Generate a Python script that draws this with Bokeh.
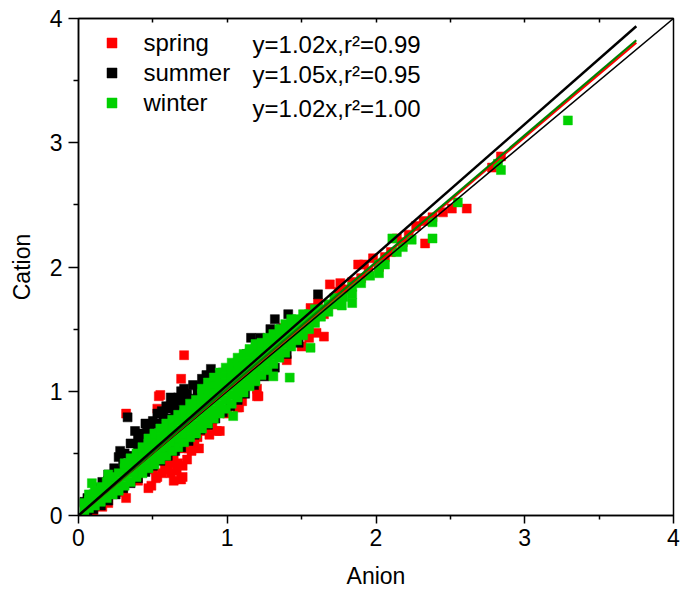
from bokeh.plotting import figure
from bokeh.models import Range1d, FixedTicker, LinearAxis, Legend, LegendItem, Label
from bokeh.embed import file_html
from bokeh.resources import INLINE

FONT = "Liberation Sans"

seasons = ["spring", "summer", "winter"]
point_colors = ["#FF0000", "#000000", "#00D000"]
line_colors = ["#FF0000", "#000000", "#008000"]
fit_slope_text = ["1.02", "1.05", "1.02"]
fit_slope_line = [1.015, 1.05, 1.02]
r2_text = ["0.99", "0.95", "1.00"]
fit_x_end = 3.75

major_ticks = [0, 1, 2, 3, 4]
minor_ticks = [0.5, 1.5, 2.5, 3.5]
top_ticks = [0.5, 1, 1.5, 2, 2.5, 3, 3.5]

spring_pts = [
    (0.16, 0.07), (0.32, 0.14), (0.47, 0.22), (0.49, 0.24), (0.52, 0.30), (0.53, 0.31),
    (0.56, 0.34), (0.58, 0.40), (0.60, 0.37), (0.62, 0.34), (0.62, 0.42), (0.64, 0.28),
    (0.64, 0.45), (0.66, 0.36), (0.67, 0.42), (0.69, 0.29), (0.70, 0.31), (0.70, 0.40),
    (0.71, 0.59), (0.73, 0.45), (0.74, 0.54), (0.74, 0.60), (0.76, 0.52), (0.78, 0.58),
    (0.81, 0.54), (0.82, 0.68), (0.84, 0.71), (0.85, 0.70), (0.88, 0.65), (0.93, 0.68),
    (0.95, 0.68), (1.07, 0.87), (1.08, 0.87), (1.20, 0.96), (1.21, 0.96), (1.55, 1.43),
    (1.65, 1.44),
    (0.10, 0.03), (0.20, 0.10), (0.30, 0.19), (0.40, 0.28), (0.50, 0.37), (0.60, 0.46),
    (0.70, 0.54), (0.80, 0.63), (0.90, 0.72), (1.00, 0.82), (1.10, 0.92), (1.20, 1.02),
    (1.30, 1.14), (1.40, 1.25), (1.50, 1.36), (1.60, 1.47),
    (0.25, 0.25), (0.45, 0.45), (0.65, 0.65), (0.85, 0.85), (1.05, 1.05), (1.25, 1.25),
    (1.45, 1.45),
    (0.32, 0.82), (0.53, 0.86), (0.54, 0.96), (0.55, 0.97), (0.69, 1.10), (0.71, 1.29),
    (1.38, 1.51),
    (1.56, 1.67), (1.61, 1.71), (1.65, 1.62), (1.69, 1.86), (1.72, 1.70), (1.75, 1.80),
    (1.76, 1.87), (1.80, 1.82), (1.84, 1.88), (1.88, 2.02), (1.90, 1.91), (1.92, 2.02),
    (1.95, 1.96), (1.98, 2.07), (2.02, 2.00), (2.06, 2.08), (2.10, 2.12), (2.14, 2.23),
    (2.18, 2.20), (2.22, 2.26), (2.27, 2.33), (2.32, 2.37), (2.33, 2.19), (2.38, 2.40),
    (2.45, 2.44), (2.51, 2.47), (2.61, 2.47), (2.78, 2.80), (2.84, 2.89),
]

summer_pts = [
    (0.04, 0.11), (0.06, 0.14), (0.08, 0.16), (0.12, 0.22), (0.16, 0.27), (0.20, 0.33),
    (0.24, 0.38), (0.27, 0.47), (0.28, 0.52), (0.31, 0.50), (0.33, 0.79), (0.35, 0.58),
    (0.38, 0.68), (0.40, 0.62), (0.43, 0.66), (0.45, 0.74), (0.48, 0.72), (0.50, 0.76),
    (0.53, 0.82), (0.56, 0.84), (0.59, 0.88), (0.62, 0.95), (0.65, 0.93), (0.69, 1.00),
    (0.71, 1.02), (0.73, 0.98), (0.77, 1.05), (0.80, 1.04), (0.83, 1.10), (0.86, 1.13),
    (0.89, 1.18), (0.93, 1.13), (0.97, 1.15), (1.01, 1.18), (1.05, 1.22), (1.09, 1.26),
    (1.13, 1.30), (1.16, 1.43), (1.22, 1.43), (1.26, 1.40), (1.29, 1.50), (1.30, 1.49),
    (1.32, 1.58), (1.36, 1.50), (1.41, 1.62), (1.45, 1.55), (1.50, 1.55), (1.55, 1.58),
    (1.61, 1.78),
    (0.10, 0.17), (0.15, 0.22), (0.20, 0.28), (0.25, 0.36), (0.30, 0.42), (0.35, 0.48),
    (0.40, 0.55), (0.42, 0.62), (0.45, 0.60), (0.46, 0.68), (0.50, 0.66), (0.52, 0.74),
    (0.55, 0.72), (0.57, 0.79), (0.60, 0.78), (0.60, 0.86), (0.64, 0.89), (0.65, 0.84),
    (0.67, 0.95), (0.70, 0.90), (0.72, 0.93), (0.75, 0.94), (0.80, 0.98), (0.85, 1.03),
    (0.06, 0.03), (0.10, 0.05), (0.15, 0.08), (0.20, 0.12), (0.25, 0.17), (0.30, 0.22),
    (0.35, 0.26), (0.40, 0.30), (0.45, 0.35), (0.50, 0.40), (0.55, 0.44), (0.60, 0.48),
    (0.65, 0.52), (0.69, 0.55), (0.74, 0.60), (0.78, 0.65), (0.82, 0.69), (0.87, 0.73),
    (0.92, 0.78), (0.97, 0.83), (1.02, 0.88), (1.07, 0.93), (1.12, 0.98), (1.18, 1.05),
    (1.25, 1.12), (1.32, 1.19), (1.40, 1.30), (1.48, 1.39),
    (0.30, 0.35), (0.50, 0.58), (0.70, 0.80), (0.90, 1.00), (1.10, 1.20), (1.30, 1.38),
]

winter_pts = [
    (0.04, 0.04), (0.04, 0.10), (0.07, 0.06), (0.07, 0.12), (0.07, 0.17), (0.09, 0.26),
    (0.11, 0.08), (0.11, 0.14), (0.11, 0.20), (0.15, 0.11), (0.15, 0.17), (0.15, 0.23),
    (0.19, 0.14), (0.19, 0.21), (0.19, 0.27), (0.20, 0.33),
    (0.23, 0.17), (0.23, 0.24), (0.23, 0.31), (0.27, 0.20), (0.27, 0.27), (0.27, 0.34),
    (0.31, 0.24), (0.31, 0.31), (0.31, 0.38), (0.31, 0.42), (0.35, 0.27), (0.35, 0.34),
    (0.35, 0.41), (0.35, 0.46), (0.39, 0.31), (0.39, 0.37), (0.39, 0.44), (0.39, 0.50),
    (0.43, 0.34), (0.43, 0.41), (0.43, 0.48), (0.43, 0.55), (0.47, 0.38), (0.47, 0.44),
    (0.47, 0.51), (0.47, 0.58), (0.47, 0.62), (0.51, 0.41), (0.51, 0.48), (0.51, 0.55),
    (0.51, 0.62), (0.51, 0.66), (0.55, 0.45), (0.55, 0.52), (0.55, 0.58), (0.55, 0.65),
    (0.55, 0.70), (0.59, 0.48), (0.59, 0.55), (0.59, 0.62), (0.59, 0.69), (0.59, 0.74),
    (0.63, 0.52), (0.63, 0.59), (0.63, 0.66), (0.63, 0.72), (0.63, 0.77), (0.67, 0.55),
    (0.67, 0.62), (0.67, 0.69), (0.67, 0.76), (0.67, 0.81), (0.71, 0.59), (0.71, 0.66),
    (0.71, 0.73), (0.71, 0.80), (0.71, 0.85), (0.75, 0.63), (0.75, 0.70), (0.75, 0.77),
    (0.75, 0.84), (0.75, 0.90), (0.79, 0.66), (0.79, 0.73), (0.79, 0.80), (0.79, 0.87),
    (0.79, 0.93), (0.83, 0.70), (0.83, 0.77), (0.83, 0.84), (0.83, 0.91), (0.83, 0.98),
    (0.83, 1.02), (0.87, 0.74), (0.87, 0.81), (0.87, 0.88), (0.87, 0.95), (0.87, 1.02),
    (0.87, 1.07), (0.91, 0.78), (0.91, 0.85), (0.91, 0.92), (0.91, 0.99), (0.91, 1.06),
    (0.91, 1.11), (0.95, 0.82), (0.95, 0.89), (0.95, 0.96), (0.95, 1.03), (0.95, 1.10),
    (0.95, 1.15), (0.99, 0.86), (0.99, 0.93), (0.99, 1.00), (0.99, 1.07), (0.99, 1.14),
    (0.99, 1.19), (1.03, 0.90), (1.03, 0.97), (1.03, 1.04), (1.03, 1.11), (1.03, 1.18),
    (1.03, 1.23), (1.04, 0.80), (1.07, 0.95), (1.07, 1.02), (1.07, 1.09), (1.07, 1.16),
    (1.07, 1.23), (1.07, 1.27), (1.11, 0.99), (1.11, 1.06), (1.11, 1.13), (1.11, 1.20),
    (1.11, 1.27), (1.11, 1.30), (1.15, 1.04), (1.15, 1.11), (1.15, 1.18), (1.15, 1.25),
    (1.15, 1.31), (1.15, 1.34), (1.19, 1.08), (1.19, 1.15), (1.19, 1.22), (1.19, 1.29),
    (1.19, 1.35), (1.19, 1.38), (1.23, 1.13), (1.23, 1.20), (1.23, 1.27), (1.23, 1.33),
    (1.23, 1.39), (1.27, 1.17), (1.27, 1.24), (1.27, 1.31), (1.27, 1.37), (1.27, 1.43),
    (1.31, 1.12), (1.31, 1.22), (1.31, 1.29), (1.31, 1.35), (1.31, 1.41), (1.31, 1.46),
    (1.35, 1.27), (1.35, 1.33), (1.35, 1.39), (1.35, 1.45), (1.35, 1.50), (1.39, 1.31),
    (1.39, 1.38), (1.39, 1.44), (1.39, 1.50), (1.39, 1.54), (1.42, 1.11), (1.43, 1.36),
    (1.43, 1.42), (1.43, 1.48), (1.43, 1.54), (1.43, 1.58), (1.47, 1.41), (1.47, 1.47),
    (1.47, 1.53), (1.47, 1.58), (1.51, 1.45), (1.51, 1.51), (1.51, 1.57), (1.51, 1.62),
    (1.55, 1.50), (1.55, 1.56), (1.55, 1.62), (1.56, 1.35), (1.59, 1.55), (1.59, 1.60),
    (1.59, 1.66), (1.63, 1.60), (1.63, 1.66), (1.68, 1.64), (1.68, 1.70), (1.72, 1.70),
    (1.72, 1.75), (1.77, 1.69), (1.78, 1.76), (1.84, 1.71), (1.84, 1.78), (1.84, 1.84),
    (1.90, 1.87), (1.96, 1.93), (2.02, 1.95), (2.02, 2.02), (2.06, 2.02), (2.11, 2.23),
    (2.14, 2.12), (2.18, 2.16), (2.24, 2.22), (2.38, 2.23), (2.38, 2.36), (2.55, 2.52),
    (2.82, 2.83), (2.84, 2.78), (3.29, 3.18),
]

all_pts = [spring_pts, summer_pts, winter_pts]

p = figure(width=684, height=597, x_range=Range1d(0, 4), y_range=Range1d(0, 4),
           output_backend="svg", toolbar_location=None,
           min_border_left=78, min_border_right=11, min_border_top=18, min_border_bottom=82,
           x_axis_label="Anion", y_axis_label="Cation")
p.xgrid.visible = False
p.ygrid.visible = False
p.outline_line_color = "black"
p.outline_line_width = 1.5
p.background_fill_color = "white"
p.border_fill_color = "white"

for ax in (p.xaxis[0], p.yaxis[0]):
    ax.ticker = FixedTicker(ticks=major_ticks, minor_ticks=minor_ticks)
    ax.axis_line_width = 1.5
    ax.major_tick_line_width = 1.5
    ax.minor_tick_line_width = 1.5
    ax.major_tick_in = 0
    ax.minor_tick_in = 0
    ax.major_label_text_font = FONT
    ax.major_label_text_font_size = "23px"
    ax.major_label_text_color = "black"
    ax.axis_label_text_font = FONT
    ax.axis_label_text_font_size = "23px"
    ax.axis_label_text_font_style = "normal"
    ax.axis_label_text_color = "black"
p.xaxis[0].major_tick_out = 8
p.xaxis[0].minor_tick_out = 4
p.xaxis[0].major_label_standoff = 5
p.xaxis[0].axis_label_standoff = 14
p.yaxis[0].major_tick_out = 10
p.yaxis[0].minor_tick_out = 5
p.yaxis[0].major_label_standoff = 6
p.yaxis[0].axis_label_standoff = 12

top_axis = LinearAxis(ticker=FixedTicker(ticks=top_ticks, minor_ticks=[]),
                      major_tick_in=4, major_tick_out=0, minor_tick_in=0, minor_tick_out=0,
                      major_label_overrides={t: "" for t in top_ticks},
                      major_label_text_font_size="1px", major_label_standoff=0,
                      axis_line_width=1.5, major_tick_line_width=1.5)
p.add_layout(top_axis, "above")

renderers = []
for pts, col in zip(all_pts, point_colors):
    xs = [a for a, b in pts]
    ys = [b for a, b in pts]
    r = p.scatter(xs, ys, marker="square", size=9, fill_color=col, line_color=col, line_width=0.5)
    renderers.append(r)

# 1:1 line
p.line([0, 4], [0, 4], line_color="black", line_width=1.5)
# fit lines (red, green, black order)
for i in [0, 2, 1]:
    p.line([0, fit_x_end], [0, fit_slope_line[i] * fit_x_end], line_color=line_colors[i],
           line_width=2.5 if i == 1 else 2.2)

legend = Legend(items=[LegendItem(label=s, renderers=[r]) for s, r in zip(seasons, renderers)],
                location=(20.5, 398.5), orientation="vertical",
                glyph_width=25, glyph_height=25, label_height=25, spacing=2,
                padding=0, margin=0, label_standoff=20,
                label_text_font=FONT, label_text_font_size="24px", label_text_color="black",
                border_line_color=None, background_fill_alpha=0)
p.add_layout(legend)

eq_y = [3.794, 3.553, 3.272]
for i in range(3):
    p.add_layout(Label(x=1.17, y=eq_y[i],
                       text=f"y={fit_slope_text[i]}x,r\u00b2={r2_text[i]}",
                       text_baseline="middle", text_font=FONT, text_font_size="24px",
                       text_color="black"))

open("out.html", "w").write(file_html(p, INLINE))
